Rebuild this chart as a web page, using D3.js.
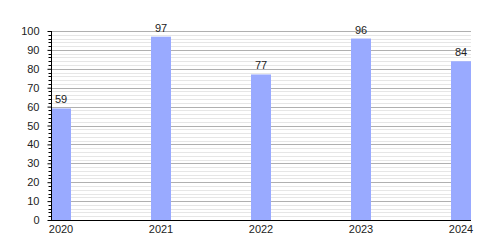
<!DOCTYPE html>
<html>
<head>
<meta charset="utf-8">
<script src="https://cdn.jsdelivr.net/npm/d3@7"></script>
<style>
  body { margin: 0; background: #fff; }
  text { font-family: "Liberation Sans", Arial, sans-serif; }
</style>
</head>
<body>
<svg id="chart" width="500" height="250"></svg>
<script>
const years = ["2020", "2021", "2022", "2023", "2024"];
const values = [59, 97, 77, 96, 84];
const yTicks = [0, 10, 20, 30, 40, 50, 60, 70, 80, 90, 100];

const margin = { left: 51, right: 29, top: 31, bottom: 30 };
const width = 500, height = 250;

const svg = d3.select("#chart");

const x = d3.scaleBand()
            .domain(years)
            .range([margin.left, width - margin.right])
            .paddingInner(0.8)
            .paddingOuter(0);

const y = d3.scaleLinear()
            .domain([0, 100])
            .range([height - margin.bottom, margin.top]);

// minor gridlines every 2
const minor = d3.range(2, 100, 2).filter(d => d % 10 != 0);
svg.append("g")
   .selectAll("line")
   .data(minor)
   .join("line")
   .attr("x1", margin.left)
   .attr("x2", width - margin.right)
   .attr("y1", d => Math.round(y(d)) + 0.5)
   .attr("y2", d => Math.round(y(d)) + 0.5)
   .style("stroke", "#e6e6e6");

// major gridlines
svg.append("g")
   .selectAll("line")
   .data(yTicks.filter(d => d > 0))
   .join("line")
   .attr("x1", margin.left)
   .attr("x2", width - margin.right)
   .attr("y1", d => Math.round(y(d)) + 0.5)
   .attr("y2", d => Math.round(y(d)) + 0.5)
   .style("stroke", "#b0b0b0");

// bars
svg.append("g")
   .selectAll("rect")
   .data(values)
   .join("rect")
   .attr("x", (d, i) => x(years[i]))
   .attr("y", d => y(d))
   .attr("width", x.bandwidth())
   .attr("height", d => y(0) - y(d))
   .style("fill", "#99aaff");

// value labels
svg.append("g")
   .selectAll("text")
   .data(values)
   .join("text")
   .attr("x", (d, i) => x(years[i]) + x.bandwidth() / 2)
   .attr("y", d => y(d) - 5)
   .attr("text-anchor", "middle")
   .style("font-size", "11px")
   .style("fill", "#222")
   .text(d => d);

// y axis
const yAxis = d3.axisLeft(y).tickValues(yTicks).tickSize(4).tickPadding(8);
const yg = svg.append("g")
   .attr("transform", `translate(${margin.left + 0.5},0)`)
   .call(yAxis);
yg.selectAll("text").style("font-size", "11px").style("fill", "#222");
yg.select(".domain").attr("d", `M0,${y(100)}V${y(0)}`);

// minor ticks on y axis
yg.append("g")
  .selectAll("line")
  .data(minor)
  .join("line")
  .attr("x1", -3)
  .attr("x2", 0)
  .attr("y1", d => Math.round(y(d)) + 0.5)
  .attr("y2", d => Math.round(y(d)) + 0.5)
  .style("stroke", "#000");

// x axis
const xAxis = d3.axisBottom(x).tickSize(0).tickPadding(5);
const xg = svg.append("g")
   .attr("transform", `translate(0,${Math.round(y(0)) + 0.5})`)
   .call(xAxis);
xg.selectAll("text").style("font-size", "11px").style("fill", "#222");
xg.select(".domain").attr("d", `M${margin.left},0H${width - margin.right}`);
</script>
</body>
</html>
